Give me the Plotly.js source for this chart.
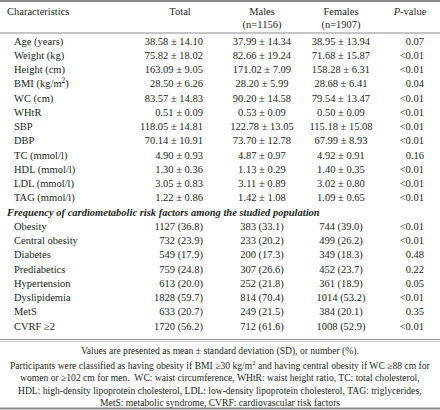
<!DOCTYPE html>
<html><head><meta charset="utf-8">
<script src="https://cdn.plot.ly/plotly-3.0.1.min.js"></script>
<style>html,body{margin:0;padding:0;background:#fff}#chart{width:440px;height:410px}</style>
</head><body><div id="chart"></div>
<script>
// ---- Data ----
const characteristics = ["Age (years)","Weight (kg)","Height (cm)","BMI (kg/m<sup>2</sup>)","WC (cm)","WHtR","SBP","DBP","TC (mmol/l)","HDL (mmol/l)","LDL (mmol/l)","TAG (mmol/l)"];
const totalMean = ["38.58 ± 14.10","75.82 ± 18.02","163.09 ± 9.05","28.50 ± 6.26","83.57 ± 14.83","0.51 ± 0.09","118.05 ± 14.81","70.14 ± 10.91","4.90 ± 0.93","1.30 ± 0.36","3.05 ± 0.83","1.22 ± 0.86"];
const malesMean = ["37.99 ± 14.34","82.66 ± 19.24","171.02 ± 7.09","28.20 ± 5.99","90.20 ± 14.58","0.53 ± 0.09","122.78 ± 13.05","73.70 ± 12.78","4.87 ± 0.97","1.13 ± 0.29","3.11 ± 0.89","1.42 ± 1.08"];
const femalesMean = ["38.95 ± 13.94","71.68 ± 15.87","158.28 ± 6.31","28.68 ± 6.41","79.54 ± 13.47","0.50 ± 0.09","115.18 ± 15.08","67.99 ± 8.93","4.92 ± 0.91","1.40 ± 0.35","3.02 ± 0.80","1.09 ± 0.65"];
const pMean = ["0.07","<0.01","<0.01","0.04","<0.01","<0.01","<0.01","<0.01","0.16","<0.01","<0.01","<0.01"];

const sectionTitle = "Frequency of cardiometabolic risk factors among the studied population";
const riskFactors = ["Obesity","Central obesity","Diabetes","Prediabetics","Hypertension","Dyslipidemia","MetS","CVRF ≥2"];
const totalFreq = ["1127 (36.8)","732 (23.9)","549 (17.9)","759 (24.8)","613 (20.0)","1828 (59.7)","633 (20.7)","1720 (56.2)"];
const malesFreq = ["383 (33.1)","233 (20.2)","200 (17.3)","307 (26.6)","252 (21.8)","814 (70.4)","249 (21.5)","712 (61.6)"];
const femalesFreq = ["744 (39.0)","499 (26.2)","349 (18.3)","452 (23.7)","361 (18.9)","1014 (53.2)","384 (20.1)","1008 (52.9)"];
const pFreq = ["<0.01","<0.01","0.48","0.22","0.05","<0.01","0.35","<0.01"];

const headers = ["Characteristics","Total","Males<br>(n=1156)","Females<br>(n=1907)","<i>P</i>-value"];
const footnotes = [
  "Values are presented as mean ± standard deviation (SD), or number (%).",
  "Participants were classified as having obesity if BMI ≥30 kg/m<sup>2</sup> and having central obesity if WC ≥88 cm for",
  "women or ≥102 cm for men.  WC: waist circumference, WHtR: waist height ratio, TC: total cholesterol,",
  "HDL: high-density lipoprotein cholesterol, LDL: low-density lipoprotein cholesterol, TAG: triglycerides,",
  "MetS: metabolic syndrome, CVRF: cardiovascular risk factors"
];

// ---- Layout geometry ----
const FONT = "Liberation Serif, Times New Roman, serif";
const INK = "#231f20";
const FS = 10.5;
const row0 = 42, rowH = 14.25;
const nMean = characteristics.length;
const yMean = characteristics.map((_, i) => row0 + i * rowH);
const ySection = row0 + nMean * rowH;
const yFreq = riskFactors.map((_, i) => row0 + (nMean + 1 + i) * rowH);
const yAll = yMean.concat(yFreq);

function textTrace(x, y, text, pos, extra) {
  return Object.assign({type: "scatter", mode: "text", x: x, y: y, text: text, textposition: pos,
    textfont: {family: FONT, size: FS, color: INK}, hoverinfo: "skip", showlegend: false, cliponaxis: false}, extra || {});
}
const at = (x, ys) => ys.map(() => x);
const traces = [
  textTrace(at(14, yAll), yAll, characteristics.concat(riskFactors), "middle right"),
  textTrace([7], [ySection], ["<b><i>" + sectionTitle + "</i></b>"], "middle right"),
  textTrace(at(203, yAll), yAll, totalMean.concat(totalFreq), "middle left"),
  textTrace(at(262, yAll), yAll, malesMean.concat(malesFreq), "middle center"),
  textTrace(at(341, yAll), yAll, femalesMean.concat(femalesFreq), "middle center"),
  textTrace(at(424, yAll), yAll, pMean.concat(pFreq), "middle left"),
  textTrace([7], [12], [headers[0]], "middle right"),
  textTrace([180], [12], [headers[1]], "middle center"),
  textTrace([262, 341], [19, 19], [headers[2], headers[3]], "middle center"),
  textTrace([410], [12], [headers[4]], "middle center")
];

const footY = [351, 364.5, 377.5, 390.5, 402.5];
const annotations = footnotes.map((t, i) => ({
  xref: "x", yref: "y", x: 220, y: footY[i], text: t, showarrow: false,
  xanchor: "center", yanchor: "middle", font: {family: FONT, size: 9.6, color: INK}
}));

function hline(y, w, c) {
  return {type: "line", xref: "x", yref: "y", x0: 0, x1: 440, y0: y, y1: y, line: {color: c, width: w}};
}
const shapes = [hline(1, 2, "#8a8a8a"), hline(33, 1, "#8a8a8a"), hline(339.5, 1, "#9a9a9a"), hline(341.5, 1, "#c8c8c8"), hline(408.5, 2, "#8a8a8a")];

const layout = {
  width: 440, height: 410, margin: {l: 0, r: 0, t: 0, b: 0},
  paper_bgcolor: "#fff", plot_bgcolor: "#fff",
  xaxis: {range: [0, 440], visible: false, fixedrange: true},
  yaxis: {range: [410, 0], visible: false, fixedrange: true},
  shapes: shapes, annotations: annotations, showlegend: false
};
Plotly.newPlot("chart", traces, layout, {staticPlot: true, displayModeBar: false});
</script></body></html>
